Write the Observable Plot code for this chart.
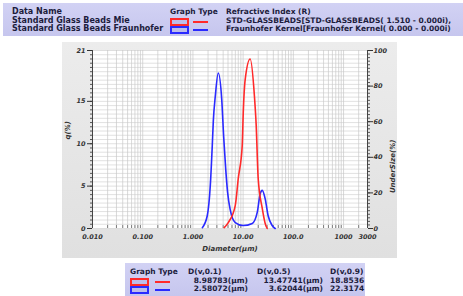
<!DOCTYPE html>
<html><head><meta charset="utf-8">
<script src="https://cdn.jsdelivr.net/npm/d3@7"></script>
<script src="https://cdn.jsdelivr.net/npm/@observablehq/plot@0.6"></script>
<style>
body{margin:0;background:#fff;}
#wrap{position:relative;width:463px;height:296px;overflow:hidden;background:#fff;font-family:"DejaVu Sans",sans-serif;font-weight:bold;font-size:7.5px;color:#1c1c3c;}
.abs{position:absolute;white-space:nowrap;}
.band{position:absolute;background:linear-gradient(#d2d2f4,#c6c6ee);overflow:hidden;}
.ico{position:absolute;width:15px;height:4px;border:2px solid;background:#bcbcea;}
.ln{position:absolute;height:1.5px;width:15px;}
</style></head>
<body>
<div id="wrap">
  <div class="band" id="hdr" style="left:3px;top:3px;width:460px;height:33px;"></div>
  <div style="position:absolute;left:62px;top:42px;width:335px;height:216px;background:linear-gradient(#ececec,#e0e0e0);"></div>
  <div id="chart" style="position:absolute;left:0;top:0;"></div>
  <div class="band" id="tbl" style="left:125px;top:263px;width:240px;height:33px;"></div>
</div>
<script>
// ---- data ----
const seriesNames = ["Standard Glass Beads Mie", "Standard Glass Beads Fraunhofer"];
const seriesColors = ["#ff2a2a", "#2a2aff"];
const refractive = ["STD-GLASSBEADS[STD-GLASSBEADS( 1.510 - 0.000i),", "Fraunhofer Kernel[Fraunhofer Kernel( 0.000 - 0.000i)"];
const dv01 = ["8.98783(μm)", "2.58072(μm)"];
const dv05 = ["13.47741(μm)", "3.62044(μm)"];
const dv09 = ["18.8536", "22.3174"];

const mieDiam = [4.2, 5.06, 6.97, 8.0, 9.6, 10.05, 11.0, 13.8, 16.8, 18.2, 19.95, 24.0, 27.5, 30.1];
const mieQ    = [0.1, 0.7, 2.7, 5.9, 9.8, 13.6, 17.6, 20.0, 15.6, 12.2, 5.9, 2.4, 0.6, 0.0];
const frDiam = [1.54, 1.93, 2.22, 2.43, 2.55, 2.79, 3.20, 3.75, 4.1, 4.5, 4.9, 5.54, 6.97, 10.0, 15.2, 19.1, 21.9, 24.0, 27.5, 31.5, 37.9, 43.5];
const frQ    = [0.1, 1.5, 5.1, 9.8, 12.7, 15.6, 18.35, 15.2, 10.8, 7.0, 4.3, 2.2, 0.7, 0.35, 0.6, 1.9, 4.1, 4.5, 3.5, 1.5, 0.35, 0.0];

const xTicks = [0.01, 0.1, 1, 10, 100, 1000, 3000];
const xTickLabels = ["0.010", "0.100", "1.000", "10.00", "100.0", "1000", "3000"];
const yTicks = [0, 5, 10, 15, 21];
const rightTicks = [0, 20, 40, 60, 80, 100];
const yMax = 21;

// ---- html header & table ----
const hdr = document.getElementById("hdr");
const add = (parent, html, style) => { const e = document.createElement("div"); e.className = "abs"; e.innerHTML = html; Object.assign(e.style, style); parent.appendChild(e); return e; };
add(hdr, "Data Name", {left:"9px", top:"4px", fontSize:"8px"});
add(hdr, "Graph Type", {left:"167px", top:"4px"});
add(hdr, "Refractive Index (R)", {left:"223px", top:"4px"});
seriesNames.forEach((n, i) => {
  const top = 13 + i * 8;
  add(hdr, n, {left:"9px", top: top + "px", fontSize:"8px"});
  const ic = document.createElement("div"); ic.className = "ico"; Object.assign(ic.style, {left:"167px", top:(top+2)+"px", borderColor: seriesColors[i]}); hdr.appendChild(ic);
  const ln = document.createElement("div"); ln.className = "ln"; Object.assign(ln.style, {left:"190px", top:(top+5)+"px", background: seriesColors[i]}); hdr.appendChild(ln);
  add(hdr, refractive[i], {left:"223px", top: top + "px"});
});
const tbl = document.getElementById("tbl");
add(tbl, "Graph Type", {left:"5px", top:"4px"});
add(tbl, "D(v,0.1)", {left:"63px", top:"4px"});
add(tbl, "D(v,0.5)", {left:"132px", top:"4px"});
add(tbl, "D(v,0.9)", {left:"205px", top:"4px"});
[0,1].forEach(i => {
  const top = 13 + i * 8;
  const ic = document.createElement("div"); ic.className = "ico"; Object.assign(ic.style, {left:"5px", top:(top+2)+"px", borderColor: seriesColors[i]}); tbl.appendChild(ic);
  const ln = document.createElement("div"); ln.className = "ln"; Object.assign(ln.style, {left:"30px", top:(top+5)+"px", background: seriesColors[i]}); tbl.appendChild(ln);
  add(tbl, dv01[i], {right: (240-123)+"px", top: top + "px"});
  add(tbl, dv05[i], {right: (240-198)+"px", top: top + "px"});
  add(tbl, dv09[i], {left: "205px", top: top + "px"});
});

// ---- chart ----
const mie = mieDiam.map((d, i) => ({d, q: mieQ[i]}));
const fr = frDiam.map((d, i) => ({d, q: frQ[i]}));
const vGrid = [];
for (let e = -2; e <= 3; e++) for (let k = 1; k <= 9; k++) { const v = k * Math.pow(10, e); if (v <= 3000 + 1e-9) vGrid.push(v); }
const minorX = vGrid.filter(v => !xTicks.some(t => Math.abs(t - v) / t < 1e-6));
const hGrid = d3.range(0, 21.01, 0.5);
const rightMinor = d3.range(0, 100.01, 2).map(v => v * yMax / 100);
const xLabelData = xTicks.map((t, i) => ({t, label: xTickLabels[i]}));
const tickFont = {fontSize: 6.5, fontWeight: "bold", fontStyle: "italic", fill: "#333"};

const chart = Plot.plot({
  width: 463, height: 296,
  marginLeft: 92, marginRight: 96, marginTop: 50, marginBottom: 68,
  style: {background: "transparent", fontFamily: "DejaVu Sans, sans-serif", color: "#333"},
  x: {type: "log", domain: [0.01, 3000], axis: null},
  y: {domain: [0, yMax]},
  marks: [
    Plot.frame({fill: "white", stroke: "none"}),
    Plot.ruleY(hGrid, {stroke: "#d4d4d4", strokeWidth: 0.7}),
    Plot.ruleX(vGrid, {stroke: "#c8c8c8", strokeWidth: 0.7}),
    Plot.ruleX(minorX, {y1: 0, y2: 0.35, stroke: "#666", strokeWidth: 0.8}),
    Plot.axisY({ticks: hGrid, tickSize: 2, tickFormat: () => "", label: null, stroke: "#555"}),
    Plot.axisY({ticks: yTicks, tickSize: 5, tickPadding: 2, label: null, ...tickFont, stroke: "#333"}),
    Plot.axisY({anchor: "right", ticks: rightMinor, tickSize: 2, tickFormat: () => "", label: null, stroke: "#555"}),
    Plot.axisY({anchor: "right", ticks: rightTicks.map(v => v * yMax / 100), tickFormat: v => String(Math.round(v / yMax * 100)), tickSize: 5, tickPadding: 1, label: null, ...tickFont, stroke: "#333"}),
    Plot.text(xLabelData, {x: "t", text: "label", frameAnchor: "bottom", dy: 10, ...tickFont}),
    Plot.ruleX([0.01], {stroke: "#444", strokeWidth: 1}),
    Plot.ruleX([3000], {stroke: "#444", strokeWidth: 1}),
    Plot.line(fr, {x: "d", y: "q", stroke: seriesColors[1], strokeWidth: 1.6, curve: "monotone-x"}),
    Plot.line(mie, {x: "d", y: "q", stroke: seriesColors[0], strokeWidth: 1.6, curve: "monotone-x"}),
    Plot.text(["q(%)"], {frameAnchor: "left", dx: -25, rotate: -90, fontSize: 7, fontWeight: "bold", fontStyle: "italic", fill: "#333"}),
    Plot.text(["UnderSize(%)"], {frameAnchor: "right", dx: 25, rotate: -90, fontSize: 7, fontWeight: "bold", fontStyle: "italic", fill: "#333"}),
    Plot.text(["Diameter(μm)"], {frameAnchor: "bottom", dy: 22, fontSize: 7, fontWeight: "bold", fontStyle: "italic", fill: "#333"})
  ]
});
document.getElementById("chart").appendChild(chart);
</script>
</body></html>
